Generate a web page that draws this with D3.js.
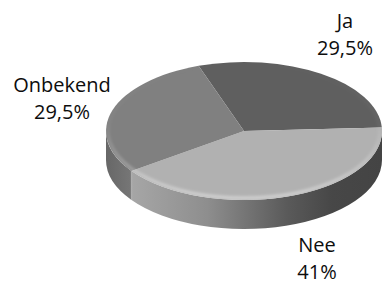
<!DOCTYPE html>
<html>
<head>
<meta charset="utf-8">
<script src="https://cdn.jsdelivr.net/npm/d3@7"></script>
<style>
  body { margin: 0; background: #fff; }
  svg { display: block; }
  text { font-family: "Open Sans", sans-serif; font-size: 20px; fill: #0d0d0d; }
</style>
</head>
<body>
<div id="chart"></div>
<script>
// values
var categories = ["Ja", "Nee", "Onbekend"];
var values = [29.5, 41, 29.5];
var valueLabels = ["29,5%", "41%", "29,5%"];
var topColors = ["#5f5f5f", "#b1b1b1", "#808080"];

var W = 382, H = 287;
var cx = 244, cy = 131, rx = 138, ry = 69, depth = 29;
var startDeg = -19.2;

// text anchors for labels (centre x, first baseline)
var labelAt = { "Ja": [345, 28], "Nee": [317, 252], "Onbekend": [62, 92] };
var lineGap = 27;

var svg = d3.select("#chart").append("svg")
    .attr("width", W).attr("height", H);

var defs = svg.append("defs");

var pie = d3.pie().sort(null)
    .startAngle(startDeg * Math.PI / 180)
    .endAngle(startDeg * Math.PI / 180 + 2 * Math.PI);

var slices = pie(values);

// side gradients
var sideStops = {
    "Ja": [["0%", "#444"], ["100%", "#444"]],
    "Nee": [["0%", "#a6a6a6"], ["30%", "#8e8e8e"], ["62%", "#5a5a5a"], ["80%", "#474747"], ["100%", "#444"]],
    "Onbekend": [["0%", "#676767"], ["100%", "#787878"]]
};

categories.forEach(function(c, i) {
    var g = defs.append("linearGradient")
        .attr("id", "side" + i)
        .attr("gradientUnits", "userSpaceOnUse")
        .attr("x1", c === "Onbekend" ? cx - rx : 132).attr("x2", c === "Onbekend" ? 134 : cx + rx)
        .attr("y1", 0).attr("y2", 0);
    sideStops[c].forEach(function(s) {
        g.append("stop").attr("offset", s[0]).attr("stop-color", s[1]);
    });
});

var blur = defs.append("filter").attr("id", "soft")
    .attr("x", "-10%").attr("y", "-10%").attr("width", "120%").attr("height", "120%");
blur.append("feGaussianBlur").attr("stdDeviation", 1.6);

// rim fades in toward the front
var rimGrad = defs.append("linearGradient").attr("id", "rim")
    .attr("x1", 0).attr("x2", 0).attr("y1", 0).attr("y2", 1);
rimGrad.append("stop").attr("offset", "0%").attr("stop-color", "#fff").attr("stop-opacity", 0);
rimGrad.append("stop").attr("offset", "45%").attr("stop-color", "#fff").attr("stop-opacity", 0.05);
rimGrad.append("stop").attr("offset", "100%").attr("stop-color", "#fff").attr("stop-opacity", 0.45);

function px(a) { return cx + rx * Math.sin(a); }
function py(a) { return cy - ry * Math.cos(a); }

// side walls for the front half of the ellipse
var front0 = Math.PI / 2, front1 = 3 * Math.PI / 2;
var sides = svg.append("g").attr("class", "sides");

slices.forEach(function(d, i) {
    var a0 = Math.max(d.startAngle, front0), a1 = Math.min(d.endAngle, front1);
    if (a1 <= a0) return;
    var large = (a1 - a0) > Math.PI ? 1 : 0;
    var p = "M" + px(a0) + "," + py(a0) +
        "A" + rx + "," + ry + " 0 " + large + " 1 " + px(a1) + "," + py(a1) +
        "L" + px(a1) + "," + (py(a1) + depth) +
        "A" + rx + "," + ry + " 0 " + large + " 0 " + px(a0) + "," + (py(a0) + depth) + "Z";
    sides.append("path")
        .attr("d", p)
        .attr("fill", "url(#side" + i + ")");
    // faint highlight at the seam
    if (d.startAngle > front0 && d.startAngle < front1) {
        sides.append("line")
            .attr("x1", px(d.startAngle)).attr("x2", px(d.startAngle))
            .attr("y1", py(d.startAngle)).attr("y2", py(d.startAngle) + depth)
            .attr("stroke", "#b8b8b8").attr("stroke-opacity", 0.5).attr("stroke-width", 1.5);
    }
});

// top face: unit arcs scaled into an ellipse
var arc = d3.arc().innerRadius(0).outerRadius(1);
var topFace = svg.append("g")
    .attr("transform", "translate(" + cx + "," + cy + ") scale(" + rx + "," + ry + ")");

topFace.selectAll("path.slice")
    .data(slices)
    .enter().append("path")
    .attr("class", "slice")
    .attr("d", arc)
    .attr("fill", function(d, i) { return topColors[i]; });

// soft bevel rim on the top face
var clip = defs.append("clipPath").attr("id", "topclip");
clip.append("ellipse").attr("cx", cx).attr("cy", cy).attr("rx", rx).attr("ry", ry);

svg.append("g").attr("clip-path", "url(#topclip)")
  .append("ellipse")
    .attr("cx", cx).attr("cy", cy).attr("rx", rx - 2).attr("ry", ry - 2)
    .attr("fill", "none")
    .attr("stroke", "url(#rim)").attr("stroke-width", 3)
    .attr("filter", "url(#soft)");

// labels
var labels = svg.append("g").attr("class", "labels");
categories.forEach(function(c, i) {
    var t = labels.append("text")
        .attr("text-anchor", "middle")
        .attr("x", labelAt[c][0]).attr("y", labelAt[c][1]);
    t.append("tspan").attr("x", labelAt[c][0]).text(c);
    t.append("tspan").attr("x", labelAt[c][0]).attr("dy", lineGap).text(valueLabels[i]);
});
</script>
</body>
</html>
